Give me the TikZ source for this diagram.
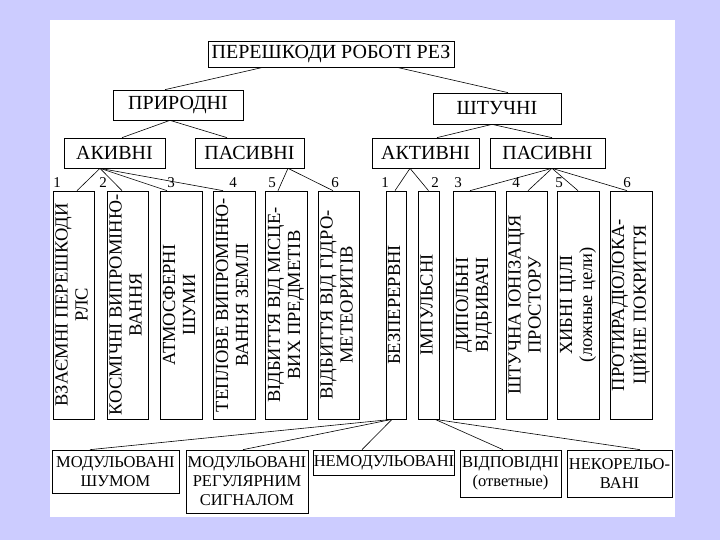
\documentclass[tikz,border=0pt]{standalone}
\usepackage{fontspec}
\setmainfont{Liberation Serif}
\usepackage{graphicx}
\usepackage{tikz}
\usetikzlibrary{positioning}
\definecolor{slidebg}{RGB}{204,204,255}

\begin{document}
\begin{tikzpicture}[x=1pt, y=-1pt,
    box/.style={draw, line width=0.7pt, inner sep=0pt, align=center,
        font=\fontsize{20}{22}\selectfont},
    vbox/.style={draw, line width=0.7pt, inner sep=0pt, minimum height=228pt,
        font=\fontsize{18.5}{20}\selectfont},
    lowbox/.style={draw, line width=0.7pt, inner sep=0pt, align=center,
        font=\fontsize{16.5}{19}\selectfont},
    num/.style={inner sep=0pt, font=\fontsize{15}{15}\selectfont},
    wire/.style={line width=0.6pt}]
    % --- slide background ---
    \fill[slidebg] (0,0) rectangle (720,540);
    \fill[white] (50,20) rectangle (675,517);
    \useasboundingbox (0,0) rectangle (720,540);
    % --- top levels ---
    \node[box, minimum width=246pt, minimum height=26pt] (main) at (331,54) {ПЕРЕШКОДИ РОБОТІ РЕЗ};
    \node[box, minimum width=130pt, minimum height=30pt] (nat) at (178,105) {ПРИРОДНІ};
    \node[box, minimum width=128pt, minimum height=31pt] (art) at (497,108.5) {ШТУЧНІ};
    \node[box, minimum width=101pt, minimum height=30pt] (natact) at (114.5,153) {АКИВНІ};
    \node[box, minimum width=109pt, minimum height=30pt] (natpas) at (249.5,153) {ПАСИВНІ};
    \node[box, minimum width=107pt, minimum height=30pt] (artact) at (425.5,153) {АКТИВНІ};
    \node[box, minimum width=115pt, minimum height=30pt] (artpas) at (547.5,153) {ПАСИВНІ};
    \draw[wire] ([xshift=-68pt]main.south) -- ([xshift=-13pt]nat.north);
    \draw[wire] ([xshift=66pt]main.south) -- ([xshift=11pt]art.north);
    \draw[wire] ([xshift=-8pt]nat.south) -- ([xshift=7.5pt]natact.north);
    \draw[wire] ([xshift=-8pt]nat.south) -- ([xshift=-22.5pt]natpas.north);
    \draw[wire] ([xshift=-5pt]art.south) -- ([xshift=11.5pt]artact.north);
    \draw[wire] ([xshift=-5pt]art.south) -- ([xshift=4.5pt]artpas.north);
    % --- natural: vertical boxes ---
    \foreach \nm/\cx/\w/\txt in {
        n1/73.5/41/{ВЗАЄМНІ ПЕРЕШКОДИ\\РЛС},
        n2/127.5/41/{КОСМІЧНІ ВИПРОМІНЮ-\\ВАННЯ},
        n3/181/42/{АТМОСФЕРНІ\\ШУМИ},
        n4/234/42/{ТЕПЛОВЕ ВИПРОМІНЮ-\\ВАННЯ ЗЕМЛІ},
        n5/286/42/{ВІДБИТТЯ ВІД МІСЦЕ-\\ВИХ ПРЕДМЕТІВ},
        n6/338.5/41/{ВІДБИТТЯ ВІД ГІДРО-\\МЕТЕОРИТІВ}} {
        \node[vbox, minimum width=\w pt] (\nm) at (\cx,305)
            {\rotatebox{90}{\begin{tabular}{@{}c@{}}\txt\end{tabular}}};
    }
    % --- artificial: vertical boxes ---
    \foreach \nm/\cx/\w/\txt in {
        a1/396/20/{БЕЗПЕРЕРВНІ},
        a2/428.5/21/{ІМПУЛЬСНІ},
        a3/474/42/{ДИПОЛЬНІ\\ВІДБИВАЧІ},
        a4/526.5/41/{ШТУЧНА ІОНІЗАЦІЯ\\ПРОСТОРУ},
        a5/578/42/{ХИБНІ ЦІЛІ\\(ложные цели)},
        a6/631/42/{ПРОТИРАДІОЛОКА-\\ЦІЙНЕ ПОКРИТТЯ}} {
        \node[vbox, minimum width=\w pt] (\nm) at (\cx,305)
            {\rotatebox{90}{\begin{tabular}{@{}c@{}}\txt\end{tabular}}};
    }
    % --- numbers ---
    \foreach \nm/\cx/\t in {k1/57/1, k2/103/2, k3/171/3, k4/233/4, k5/272/5, k6/335/6,
        q1/385/1, q2/435/2, q3/458/3, q4/516/4, q5/559/5, q6/627/6} {
        \node[num] (\nm) at (\cx,183) {\t};
    }
    % --- links to vertical boxes ---
    \foreach \t/\dx in {n1/3.5, n2/-5.5, n3/-14, n4/-11}
        \draw[wire] ([xshift=-14.5pt]natact.south) -- ([xshift=\dx pt]\t.north);
    \foreach \t/\dx in {n5/-8, n6/-5.5}
        \draw[wire] ([xshift=38.5pt]natpas.south) -- ([xshift=\dx pt]\t.north);
    \foreach \t/\dx in {a1/-1, a2/0}
        \draw[wire] ([xshift=-15.5pt]artact.south) -- ([xshift=\dx pt]\t.north);
    \foreach \t/\dx in {a3/-4, a4/1.5, a5/0, a6/-4}
        \draw[wire] ([xshift=4.5pt]artpas.south) -- ([xshift=\dx pt]\t.north);
    % --- bottom row ---
    \node[lowbox, minimum width=127pt, minimum height=43pt] (m1) at (115.5,471.5) {МОДУЛЬОВАНІ\\ШУМОМ};
    \node[lowbox, minimum width=122pt, minimum height=63pt] (m2) at (247,481.5) {МОДУЛЬОВАНІ\\РЕГУЛЯРНИМ\\СИГНАЛОМ};
    \node[lowbox, minimum width=140pt, minimum height=25pt] (m3) at (384,462.5) {НЕМОДУЛЬОВАНІ};
    \node[lowbox, minimum width=101pt, minimum height=47pt] (m4) at (510.5,473.5) {ВІДПОВІДНІ\\(ответные)};
    \node[lowbox, minimum width=105pt, minimum height=47pt] (m5) at (619.5,473.5) {НЕКОРЕЛЬО-\\ВАНІ};
    \foreach \t/\dx in {m1/-25.5, m2/-4, m3/-22}
        \draw[wire] ([xshift=-4pt]a1.south) -- ([xshift=\dx pt]\t.north);
    \foreach \t/\dx in {m4/-7.5, m5/20.5}
        \draw[wire] ([xshift=6.5pt]a2.south) -- ([xshift=\dx pt]\t.north);
\end{tikzpicture}
\end{document}
